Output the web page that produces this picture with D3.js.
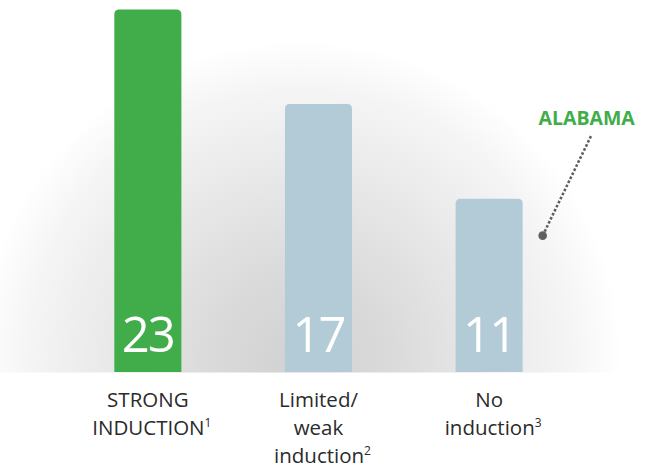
<!DOCTYPE html>
<html>
<head>
<meta charset="utf-8">
<script src="https://cdn.jsdelivr.net/npm/d3@7"></script>
<style>
  html, body { margin: 0; padding: 0; background: #ffffff; }
  svg { display: block; }
  text { font-family: "Open Sans", "Noto Sans", sans-serif; }
</style>
</head>
<body>
<div id="chart"></div>
<script>
// Number of states in each response category
const categories = ["STRONG INDUCTION", "Limited/weak induction", "No induction"];
const counts = [23, 17, 11];
const labelLines = [["STRONG", "INDUCTION"], ["Limited/", "weak", "induction"], ["No", "induction"]];
const footnotes = ["1", "2", "3"];
const highlighted = "STRONG INDUCTION";
const calloutCategory = "No induction";
const calloutText = "ALABAMA";

const W = 647, H = 470;
const baseY = 372;

const svg = d3.select("#chart").append("svg")
  .attr("width", W).attr("height", H);

const defs = svg.append("defs");
const halo = defs.append("radialGradient")
  .attr("id", "halo")
  .attr("gradientUnits", "userSpaceOnUse")
  .attr("cx", 300).attr("cy", 362).attr("r", 322);
[[0, "#d1d1d1"], [0.3, "#dbdbdb"], [0.6, "#e9e9e9"], [0.85, "#f5f5f5"], [1, "#ffffff"]]
  .forEach(([o, c]) => halo.append("stop").attr("offset", o).attr("stop-color", c));

// soft grey backdrop behind the bars, cut off at the baseline
svg.append("rect")
  .attr("x", 0).attr("y", 0).attr("width", W).attr("height", baseY + 0.5)
  .attr("fill", "url(#halo)");

const x = d3.scaleBand()
  .domain(categories)
  .range([29, 608])
  .paddingInner(0.607)
  .paddingOuter(0.5);

const y = d3.scaleLinear()
  .domain([0, 23])
  .range([baseY, 9.5]);

const data = categories.map((c, i) => ({ cat: c, value: counts[i], lines: labelLines[i], note: footnotes[i] }));

// bar with rounded top corners only
function barPath(d) {
  const x0 = x(d.cat), w = x.bandwidth(), y0 = y(d.value), r = 5;
  return `M${x0},${baseY}V${y0 + r}Q${x0},${y0} ${x0 + r},${y0}H${x0 + w - r}Q${x0 + w},${y0} ${x0 + w},${y0 + r}V${baseY}Z`;
}

svg.append("g").selectAll("path")
  .data(data)
  .join("path")
  .attr("d", barPath)
  .attr("fill", d => d.cat === highlighted ? "#41ad4a" : "#b3cbd6");

// value labels inside the bars
svg.append("g").selectAll("text")
  .data(data)
  .join("text")
  .attr("x", d => x(d.cat) + x.bandwidth() / 2)
  .attr("y", baseY - 20)
  .attr("text-anchor", "middle")
  .attr("fill", "#ffffff")
  .attr("font-size", 49)
  .attr("font-weight", 400)
  .attr("letter-spacing", -2)
  .text(d => d.value);

// category labels with footnote markers
const cat = svg.append("g").selectAll("text")
  .data(data)
  .join("text")
  .attr("text-anchor", "middle")
  .attr("fill", "#2b2b2b")
  .attr("font-size", 20.5);

cat.each(function (d) {
  const t = d3.select(this);
  const cx = x(d.cat) + x.bandwidth() / 2;
  d.lines.forEach((line, i) => {
    const last = i === d.lines.length - 1;
    t.append("tspan")
      .attr("x", cx + (last ? 4 : 0))
      .attr("y", 407 + i * 28)
      .text(line);
    if (last) {
      t.append("tspan")
        .attr("dy", -8)
        .attr("font-size", 12)
        .text(d.note);
    }
  });
});

// callout pointing at the no-induction bar
const cx3 = x(calloutCategory) + x.bandwidth();
const dotX = cx3 + 20, dotY = y(11) + 37;
const endX = dotX + 49, endY = dotY - 101;

svg.append("line")
  .attr("x1", dotX).attr("y1", dotY)
  .attr("x2", endX).attr("y2", endY)
  .attr("stroke", "#5f5f5f")
  .attr("stroke-width", 2.6)
  .attr("stroke-dasharray", "2.6 1.9");

svg.append("circle")
  .attr("cx", dotX).attr("cy", dotY).attr("r", 4.3)
  .attr("fill", "#5f5f5f");

svg.append("text")
  .attr("x", endX - 5)
  .attr("y", endY - 10)
  .attr("text-anchor", "middle")
  .attr("fill", "#41ad4a")
  .attr("font-size", 19.5)
  .attr("font-weight", 700)
  .text(calloutText);
</script>
</body>
</html>
